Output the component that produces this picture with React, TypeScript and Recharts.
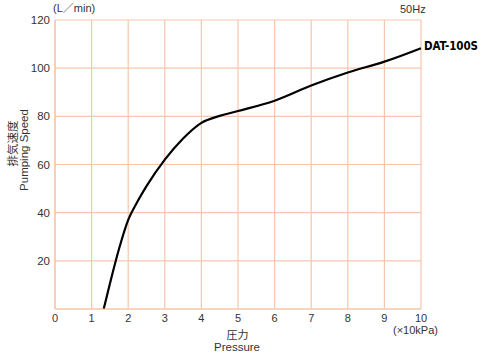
import { LineChart, Line, XAxis, YAxis, CartesianGrid } from "recharts";

const pressure = [1.33, 1.5, 1.75, 2, 2.25, 2.5, 3, 3.5, 4, 4.5, 5, 6, 7, 8, 9, 10];
const pumpingSpeed = [0, 10.5, 25, 37, 44.5, 51, 62, 70.8, 77.3, 80.2, 82.2, 86.5, 92.8, 98.2, 102.7, 108.3];
const xTicks = [0, 1, 2, 3, 4, 5, 6, 7, 8, 9, 10];
const yTicks = [20, 40, 60, 80, 100, 120];

const data = pressure.map((p, i) => ({ p, v: pumpingSpeed[i] }));

const FONT = "'Liberation Sans', Arial, 'Noto Sans CJK JP', sans-serif";
const GRID = "#f6c6ac";
const INK = "#333";

export default function App() {
  return (
    <div style={{ position: "absolute", left: 0, top: 0, width: 481, height: 356, background: "#fff", fontFamily: FONT }}>
      <LineChart
        width={481}
        height={356}
        data={data}
        margin={{ top: 20, right: 60, left: 0, bottom: 17 }}
      >
        <CartesianGrid stroke={GRID} strokeWidth={1.2} />
        <XAxis
          dataKey="p"
          type="number"
          domain={[0, 10]}
          ticks={xTicks}
          height={30}
          tickLine={false}
          tickSize={3}
          tickMargin={2}
          axisLine={{ stroke: GRID, strokeWidth: 1.2 }}
          tick={{ fill: INK, fontSize: 11, fontFamily: FONT }}
          interval={0}
        />
        <YAxis
          type="number"
          domain={[0, 120]}
          ticks={yTicks}
          width={55}
          tickLine={false}
          tickSize={3}
          tickMargin={2}
          axisLine={{ stroke: GRID, strokeWidth: 1.2 }}
          tick={{ fill: INK, fontSize: 11.5, fontFamily: FONT }}
          interval={0}
        />
        <Line
          type="monotone"
          dataKey="v"
          stroke="#000"
          strokeWidth={2.2}
          dot={false}
          isAnimationActive={false}
        />
      </LineChart>
      <svg
        width={481}
        height={356}
        style={{ position: "absolute", left: 0, top: 0, pointerEvents: "none" }}
      >
        <g fill={INK} fontFamily={FONT} fontSize={11}>
          <text x={53} y={12}>(L／min)</text>
          <text x={400} y={13}>50Hz</text>
          <text x={237.5} y={339} textAnchor="middle">圧力</text>
          <text x={237} y={351} textAnchor="middle" fontSize={11.5}>Pressure</text>
          <text x={393} y={334}>(×10kPa)</text>
          <text x={17} y={143.5} textAnchor="middle" fontSize={11.5} transform="rotate(-90 17 143.5)">排気速度</text>
          <text x={28} y={150} textAnchor="middle" fontSize={11.5} transform="rotate(-90 28 150)">Pumping Speed</text>
        </g>
        <text
          x={424}
          y={50}
          fill="#000"
          fontFamily="'DejaVu Sans Condensed', 'DejaVu Sans', sans-serif"
          fontWeight="bold"
          fontSize={11.5}
          textLength={54}
        >
          DAT-100S
        </text>
      </svg>
    </div>
  );
}
